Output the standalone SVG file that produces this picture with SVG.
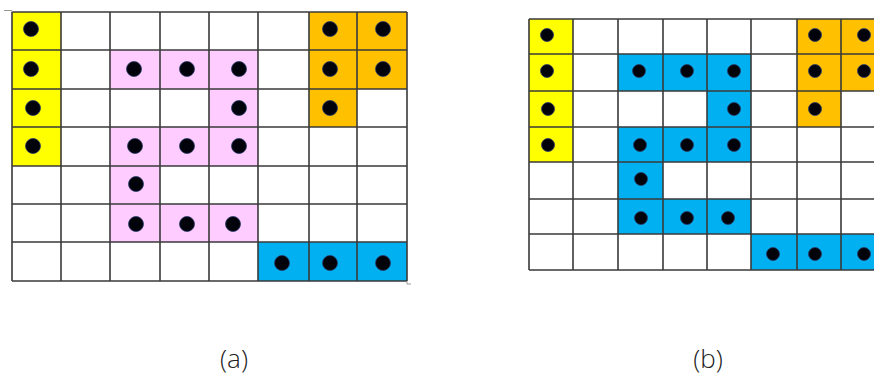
<svg xmlns="http://www.w3.org/2000/svg" width="874" height="377" viewBox="0 0 874 377">
<style>
.y{fill:#FFFF00}.o{fill:#FFC000}.p{fill:#FFCCFF}.b{fill:#00B0F0}
.g{stroke:#3a3a3a;stroke-width:1.6;fill:none}
.d{fill:#02030a;stroke:#2a3a6a;stroke-width:0.8}
.t{font-family:"Open Sans","DejaVu Sans",sans-serif;font-weight:300;font-size:26px;fill:#222;text-anchor:middle}
</style>
<rect width="874" height="377" fill="#fff"/>
<g id="gridA">
<rect class="y" x="12" y="12" width="49" height="154"/>
<rect class="o" x="309" y="12" width="98" height="77"/>
<rect class="o" x="309" y="89" width="48" height="38"/>
<rect class="p" x="110" y="50" width="148" height="39"/>
<rect class="p" x="209" y="89" width="49" height="38"/>
<rect class="p" x="110" y="127" width="148" height="39"/>
<rect class="p" x="110" y="166" width="50" height="38"/>
<rect class="p" x="110" y="204" width="148" height="38"/>
<rect class="b" x="258" y="242" width="149" height="39"/>
<path class="g" d="M12 12V281M61 12V281M110 12V281M160 12V281M209 12V281M258 12V281M309 12V281M357 12V281M407 12V281M12 12H407M12 50H407M12 89H407M12 127H407M12 166H407M12 204H407M12 242H407M12 281H407"/>
<path d="M4 10.5H12V12M407 281V284H411" stroke="#999" stroke-width="1" fill="none"/>
<g>
<circle class="d" cx="31" cy="29" r="7.5"/><circle class="d" cx="330" cy="29" r="7.5"/><circle class="d" cx="383" cy="29" r="7.5"/>
<circle class="d" cx="31" cy="69" r="7.5"/><circle class="d" cx="134" cy="69" r="7.5"/><circle class="d" cx="187" cy="69" r="7.5"/><circle class="d" cx="239" cy="69" r="7.5"/><circle class="d" cx="330" cy="69" r="7.5"/><circle class="d" cx="383" cy="69" r="7.5"/>
<circle class="d" cx="33" cy="108" r="7.5"/><circle class="d" cx="239" cy="108" r="7.5"/><circle class="d" cx="330" cy="108" r="7.5"/>
<circle class="d" cx="33" cy="146" r="7.5"/><circle class="d" cx="135" cy="146" r="7.5"/><circle class="d" cx="187" cy="146" r="7.5"/><circle class="d" cx="239" cy="146" r="7.5"/>
<circle class="d" cx="136" cy="184" r="7.5"/>
<circle class="d" cx="136" cy="224" r="7.5"/><circle class="d" cx="187" cy="224" r="7.5"/><circle class="d" cx="233" cy="224" r="7.5"/>
<circle class="d" cx="282" cy="263" r="7.5"/><circle class="d" cx="330" cy="263" r="7.5"/><circle class="d" cx="383" cy="263" r="7.5"/>
</g>
</g>
<g id="gridB">
<rect class="y" x="529" y="19" width="44" height="143"/>
<rect class="o" x="797" y="19" width="88" height="72"/>
<rect class="o" x="797" y="91" width="44" height="36"/>
<rect class="b" x="618" y="54" width="133" height="37"/>
<rect class="b" x="707" y="91" width="44" height="36"/>
<rect class="b" x="618" y="127" width="133" height="35"/>
<rect class="b" x="618" y="162" width="45" height="37"/>
<rect class="b" x="618" y="199" width="133" height="35"/>
<rect class="b" x="751" y="234" width="134" height="36"/>
<path class="g" d="M529 19V270M573 19V270M618 19V270M663 19V270M707 19V270M751 19V270M797 19V270M841 19V270M529 19H885M529 54H885M529 91H885M529 127H885M529 162H885M529 199H885M529 234H885M529 270H885"/>
<g>
<circle class="d" cx="547" cy="35" r="6.5"/><circle class="d" cx="815" cy="35" r="6.5"/><circle class="d" cx="864" cy="35" r="6.5"/>
<circle class="d" cx="547" cy="71" r="6.5"/><circle class="d" cx="639" cy="71" r="6.5"/><circle class="d" cx="687" cy="71" r="6.5"/><circle class="d" cx="734" cy="71" r="6.5"/><circle class="d" cx="815" cy="71" r="6.5"/><circle class="d" cx="864" cy="71" r="6.5"/>
<circle class="d" cx="548" cy="109" r="6.5"/><circle class="d" cx="734" cy="109" r="6.5"/><circle class="d" cx="815" cy="109" r="6.5"/>
<circle class="d" cx="548" cy="145" r="6.5"/><circle class="d" cx="640" cy="145" r="6.5"/><circle class="d" cx="687" cy="145" r="6.5"/><circle class="d" cx="734" cy="145" r="6.5"/>
<circle class="d" cx="641" cy="179" r="6.5"/>
<circle class="d" cx="641" cy="218" r="6.5"/><circle class="d" cx="687" cy="218" r="6.5"/><circle class="d" cx="728" cy="218" r="6.5"/>
<circle class="d" cx="773" cy="254" r="6.5"/><circle class="d" cx="815" cy="254" r="6.5"/><circle class="d" cx="864" cy="254" r="6.5"/>
</g>
</g>
<g id="labels">
<text class="t" x="234" y="368">(a)</text>
<text class="t" x="708" y="368">(b)</text>
</g>
</svg>
